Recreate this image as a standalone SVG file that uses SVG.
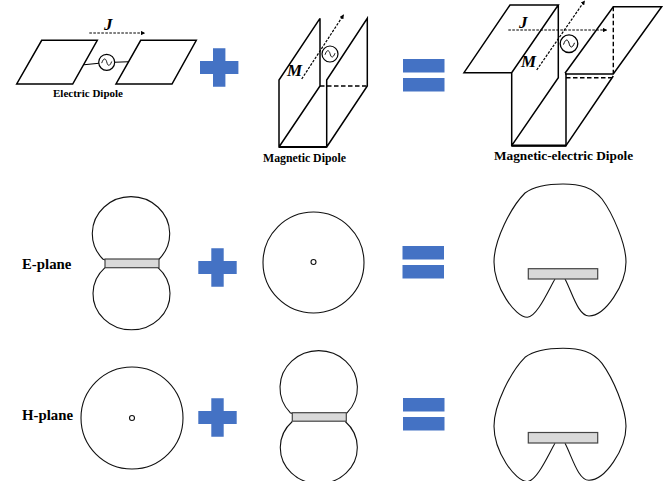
<svg xmlns="http://www.w3.org/2000/svg" width="671" height="481" viewBox="0 0 671 481">
<style>
.l{fill:none;stroke:#000;stroke-width:1.5}
.t{stroke-width:1.1}
.h{stroke-width:2.2}
.d{fill:none;stroke:#000;stroke-width:1.4;stroke-dasharray:4.5 2.5}
.s{fill:none;stroke:#000;stroke-width:1.2;stroke-dasharray:2.6 1.4}
.pat{fill:none;stroke:#111;stroke-width:1.1}
.bar{fill:#d9d9d9;stroke:#444;stroke-width:1.2}
.p{fill:#4472c4}
text{font-family:"Liberation Serif","Times New Roman",serif;font-weight:bold;fill:#000}
.i{font-style:italic;font-size:17px}
.c{font-size:11px}
.m{font-size:11.800px}
.b{font-size:13.300px}
.r{font-size:14.800px}
</style>
<defs>
<marker id="a" viewBox="0 0 6 6" refX="5" refY="3" markerWidth="4.500" markerHeight="4.500" markerUnits="userSpaceOnUse" orient="auto"><path d="M0,0L6,3L0,6z" fill="#000"/></marker>
<path id="plus" class="p" d="M-6.200,-19.200H6.200V-6.500H19.200V6.500H6.200V19.200H-6.200V6.500H-19.200V-6.500H-6.200z"/>
<g id="eq"><rect x="0" y="0" width="41.500" height="13.500" class="p"/><rect x="0" y="19" width="41.500" height="13.500" class="p"/></g>
<path id="pattern" class="pat" d="M555,279C549,289 537,317 527.300,317.300C515,317 494,287 494,262C494,240 511,207 525,193C536,185 550,184 563,184C580,184 592,187 602,199C613,214 626,244 626,262C626,285 605,316 589,316C578,316 572,292 565,279"/>
<g id="src"><circle r="8" fill="#fff" stroke="#000" stroke-width="1.200"/><path d="M-5,0.800C-3,-5 -1,-4 0,-0.500C1,4 3,4.500 5,-0.800" fill="none" stroke="#000" stroke-width="0.900"/></g>
</defs>
<g id="connectors">
<path class="s" d="M89.300,33H144.500" marker-end="url(#a)"/>
<path class="s" d="M301.700,79L343.500,15" marker-end="url(#a)"/>
<path class="s" d="M508.300,30H606.500" marker-end="url(#a)"/>
<path class="s" d="M536.700,70L584.500,1" marker-end="url(#a)"/>
</g>
<g id="electric-dipole">
<path class="l" d="M41.700,40.300H97.300L72.700,84H16.700z"/>
<path class="l" d="M140.700,40.300H196.300L172,84H116z"/>
<path class="l t" d="M84,64.700L99,63.300M114.500,62.300L128.300,61.700"/>
<use href="#src" x="106.700" y="62.300"/>
<text class="i" x="104" y="30">J</text>
<text class="c" x="53" y="96.500">Electric Dipole</text>
</g>
<g id="plus-1"><use href="#plus" x="219.200" y="67.500"/></g>
<g id="magnetic-dipole">
<path class="l" d="M320,18.300L279,80V147H326.700V80L367.300,18.300V86L326.700,147M320,18.300V86L279,147"/>
<path class="h l" d="M279,147H326.700"/>
<path class="d" d="M320,86H367.300"/>
<use href="#src" x="330" y="54"/>
<text class="i" x="287" y="76">M</text>
<text class="m" x="263" y="161.500">Magnetic Dipole</text>
</g>
<g id="eq-1"><use href="#eq" x="403" y="59"/></g>
<g id="magnetic-electric-dipole">
<path class="l" d="M510,5H558.300L511.700,72.700H464zM511.700,72.700V145.700H566V73.300M558.300,5V77.700L511.700,145.700"/>
<path class="h l" d="M511.700,145.700H566"/>
<path class="l" d="M565,73.300L613.300,6.700H661.700L613.300,74H565M566,145.700L613.300,76"/>
<path class="d" d="M613.300,6.700V74M566,77.700H612"/>
<use href="#src" x="569" y="43.700" transform="translate(-56.900 -4.370) scale(1.100)"/>
<text class="i" x="519" y="28">J</text>
<text class="i" x="521" y="67">M</text>
<text class="b" x="494" y="160">Magnetic-electric Dipole</text>
</g>
<g id="e-plane">
<text class="r" x="22" y="269">E-plane</text>
<path class="pat" d="M105,260L102.800,259A38.700,37 0 1 1 159.200,259L158,260"/>
<path class="pat" d="M105,267.700A38.500,36 0 1 0 158,267.700"/>
<rect class="bar" x="105" y="259" width="54" height="8.700"/>
</g>
<g id="plus-2"><use href="#plus" x="217.500" y="267.500"/></g>
<g id="e-plane-circle">
<circle class="pat" cx="313.500" cy="262.500" r="50.500"/>
<circle class="pat" cx="313.500" cy="262" r="2.500"/>
</g>
<g id="eq-2"><use href="#eq" x="402.500" y="246"/></g>
<g id="e-plane-result">
<use href="#pattern"/>
<rect class="bar" x="528.300" y="268.700" width="69.400" height="10.300"/>
</g>
<g id="h-plane">
<text class="r" x="22" y="420">H-plane</text>
<circle class="pat" cx="132" cy="418" r="51"/>
<circle class="pat" cx="132" cy="418" r="2.500"/>
</g>
<g id="plus-3"><use href="#plus" x="217.500" y="417.500"/></g>
<g id="h-plane-lobes">
<path class="pat" d="M292.300,413.500L290.200,412.700A38.700,37 0 1 1 347.200,412.700L346.300,413.500"/>
<path class="pat" d="M292.300,421.500A38.500,36 0 1 0 345.300,421.500"/>
<rect class="bar" x="292.300" y="412.700" width="54" height="8.500"/>
</g>
<g id="eq-3"><use href="#eq" x="403" y="398"/></g>
<g id="h-plane-result">
<use href="#pattern" y="164.300"/>
<rect class="bar" x="528.300" y="432.500" width="69.400" height="10.500"/>
</g>
</svg>
